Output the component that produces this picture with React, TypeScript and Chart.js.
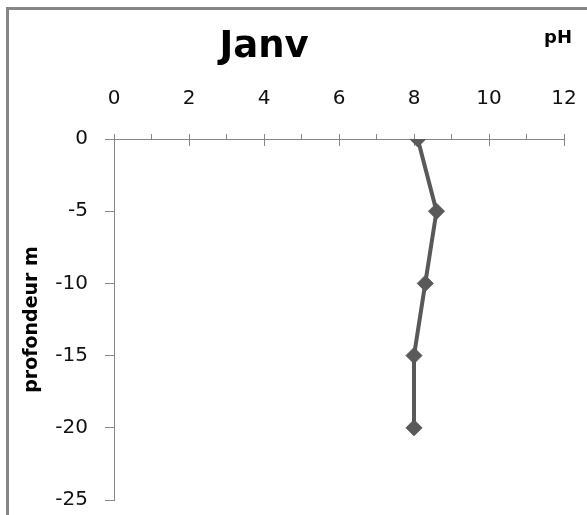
import { useEffect, useRef } from "react";
import { Chart, registerables } from "chart.js";

Chart.register(...registerables);

const chartTitle = "Janv";
const xAxisLabel = "pH";
const yAxisLabel = "profondeur m";
const depths = [0, -5, -10, -15, -20];
const phValues = [8.1, 8.6, 8.3, 8.0, 8.0];
const xMin = 0;
const xMax = 12;
const xMajorStep = 2;
const xMinorStep = 1;
const yMin = -25;
const yMax = 0;
const yStep = 5;

const AXIS = "#868686";
const LINE = "#595959";
const TEXT = "#111";
const FONT = "'DejaVu Sans', sans-serif";

export default function App() {
  const ref = useRef<HTMLCanvasElement>(null);

  useEffect(() => {
    const canvas = ref.current;
    if (!canvas) return;

    const decor = {
      id: "decor",
      beforeDraw(chart: any) {
        const { ctx, width, height } = chart;
        ctx.save();
        ctx.fillStyle = "#fff";
        ctx.fillRect(0, 0, width, height);
        ctx.strokeStyle = AXIS;
        ctx.lineWidth = 3;
        ctx.strokeRect(7.5, 8.5, width + 50, height + 50);
        ctx.restore();
      },
      beforeDatasetsDraw(chart: any) {
        const { ctx, chartArea } = chart;
        const xs = chart.scales.x;
        ctx.save();
        ctx.strokeStyle = AXIS;
        ctx.lineWidth = 1;
        for (let v = xMin; v <= xMax; v += xMajorStep) {
          const px = Math.round(xs.getPixelForValue(v)) + 0.5;
          ctx.beginPath();
          ctx.moveTo(px, chartArea.top);
          ctx.lineTo(px, chartArea.top + 7);
          ctx.stroke();
        }
        ctx.restore();
      },
      afterDraw(chart: any) {
        const { ctx } = chart;
        ctx.save();
        ctx.fillStyle = "#000";
        ctx.textAlign = "center";
        ctx.textBaseline = "alphabetic";
        ctx.font = `bold 37px ${FONT}`;
        ctx.fillText(chartTitle, 264, 57);
        ctx.font = `bold 18px ${FONT}`;
        ctx.fillText(xAxisLabel, 558, 43);
        ctx.restore();
      },
    };

    const chart = new Chart(canvas, {
      type: "line",
      data: {
        datasets: [
          {
            label: chartTitle,
            data: depths.map((d, i) => ({ x: phValues[i], y: d })),
            borderColor: LINE,
            backgroundColor: LINE,
            borderWidth: 4,
            tension: 0,
            pointStyle: "rectRot",
            pointRadius: 8,
            pointBorderWidth: 1,
            pointBackgroundColor: LINE,
            pointBorderColor: LINE,
          },
        ],
      },
      options: {
        animation: false,
        responsive: false,
        layout: { padding: { left: 0, top: 0, right: 23, bottom: 15 } },
        plugins: {
          legend: { display: false },
          tooltip: { enabled: false },
          title: { display: false },
        },
        scales: {
          x: {
            type: "linear",
            position: "top",
            min: xMin,
            max: xMax,
            afterFit(scale: any) {
              scale.height = 139;
              scale.paddingLeft = 0;
              scale.paddingRight = 0;
            },
            ticks: {
              stepSize: xMinorStep,
              autoSkip: false,
              maxRotation: 0,
              padding: 23,
              color: TEXT,
              font: { family: FONT, size: 20 },
              callback: (v: any) => (Number(v) % xMajorStep === 0 ? String(v) : ""),
            },
            grid: {
              drawOnChartArea: false,
              drawTicks: true,
              tickLength: 5,
              color: AXIS,
            },
            border: { display: true, color: AXIS, width: 1 },
          },
          y: {
            type: "linear",
            position: "left",
            min: yMin,
            max: yMax,
            afterFit(scale: any) {
              scale.width = 114;
              scale.paddingTop = 0;
              scale.paddingBottom = 0;
            },
            ticks: {
              stepSize: yStep,
              padding: 17,
              color: TEXT,
              font: { family: FONT, size: 20 },
            },
            grid: {
              drawOnChartArea: false,
              drawTicks: true,
              tickLength: 9,
              color: AXIS,
            },
            border: { display: true, color: AXIS, width: 1 },
            title: {
              display: true,
              text: yAxisLabel,
              color: "#000",
              font: { family: FONT, size: 19, weight: "bold" },
              padding: { top: 21, bottom: 0 },
            },
          },
        },
      },
      plugins: [decor],
    });

    return () => chart.destroy();
  }, []);

  return (
    <div style={{ position: "fixed", left: 0, top: 0, width: 587, height: 515, overflow: "hidden", background: "#fff" }}>
      <canvas ref={ref} width={587} height={515} style={{ display: "block" }} />
    </div>
  );
}
